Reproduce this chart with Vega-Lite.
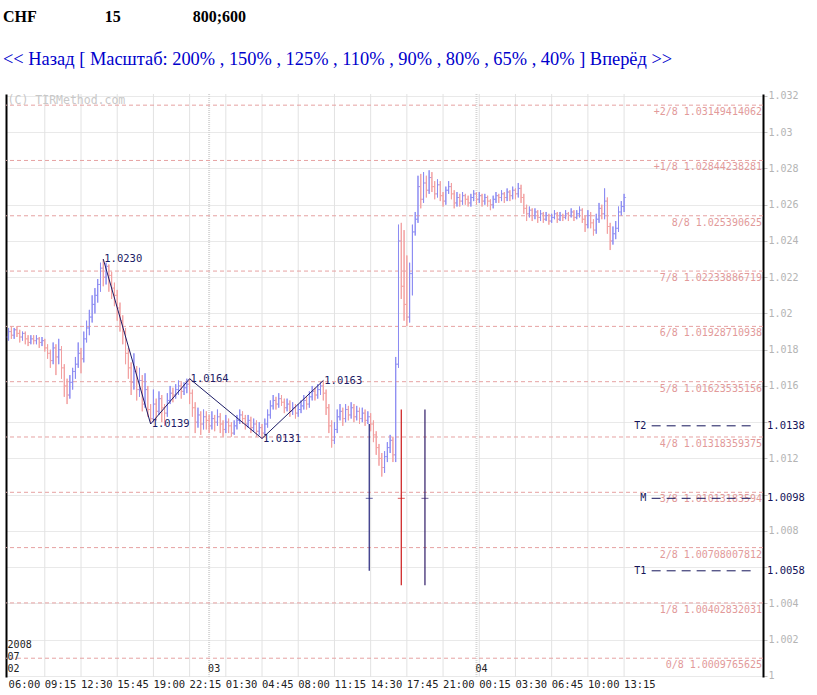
{
"$schema": "https://vega.github.io/schema/vega-lite/v6.json",
"width": 757,
"height": 583,
"padding": {"left": 3, "top": 8, "right": 5, "bottom": 2},
"config": {"view": {"stroke": null}},
"title": {
  "text": "\u00a0CHF\u00a0\u00a0\u00a0\u00a0\u00a0\u00a0\u00a0\u00a0\u00a0\u00a0\u00a0\u00a0\u00a0\u00a0\u00a0\u00a0\u00a015\u00a0\u00a0\u00a0\u00a0\u00a0\u00a0\u00a0\u00a0\u00a0\u00a0\u00a0\u00a0\u00a0\u00a0\u00a0\u00a0\u00a0\u00a0800;600",
  "subtitle": "<< Назад [ Масштаб: 200% , 150% , 125% , 110% , 90% , 80% , 65% , 40% ] Вперёд >>",
  "anchor": "start", "frame": "group", "dx": -3,
  "font": "Liberation Serif", "fontSize": 16, "fontWeight": "bold", "color": "#000000",
  "subtitleFont": "Liberation Serif", "subtitleFontSize": 18.4, "subtitleColor": "#0000cc",
  "subtitlePadding": 25, "offset": 23
},
"datasets": {
  "bars": [
{"i":0,"o":1.0187,"h":1.0192,"l":1.0185,"c":1.0190},{"i":1,"o":1.0190,"h":1.0193,"l":1.0186,"c":1.0188},{"i":2,"o":1.0188,"h":1.0192,"l":1.0186,"c":1.0191},{"i":3,"o":1.0191,"h":1.0193,"l":1.0187,"c":1.0189},{"i":4,"o":1.0189,"h":1.0191,"l":1.0184,"c":1.0187},
{"i":5,"o":1.0187,"h":1.0190,"l":1.0185,"c":1.0189},{"i":6,"o":1.0189,"h":1.0190,"l":1.0183,"c":1.0186},{"i":7,"o":1.0186,"h":1.0188,"l":1.0182,"c":1.0184},{"i":8,"o":1.0184,"h":1.0188,"l":1.0183,"c":1.0186},{"i":9,"o":1.0186,"h":1.0188,"l":1.0183,"c":1.0185},
{"i":10,"o":1.0185,"h":1.0188,"l":1.0183,"c":1.0186},{"i":11,"o":1.0186,"h":1.0187,"l":1.0181,"c":1.0184},{"i":12,"o":1.0184,"h":1.0187,"l":1.0182,"c":1.0185},{"i":13,"o":1.0185,"h":1.0186,"l":1.0179,"c":1.0181},{"i":14,"o":1.0181,"h":1.0183,"l":1.0175,"c":1.0178},
{"i":15,"o":1.0178,"h":1.0180,"l":1.0170,"c":1.0174},{"i":16,"o":1.0174,"h":1.0184,"l":1.0172,"c":1.0181},{"i":17,"o":1.0181,"h":1.0183,"l":1.0166,"c":1.0176},{"i":18,"o":1.0176,"h":1.0186,"l":1.0172,"c":1.0180},{"i":19,"o":1.0180,"h":1.0182,"l":1.0164,"c":1.0170},
{"i":20,"o":1.0170,"h":1.0172,"l":1.0154,"c":1.0160},{"i":21,"o":1.0160,"h":1.0164,"l":1.0150,"c":1.0155},{"i":22,"o":1.0155,"h":1.0166,"l":1.0153,"c":1.0162},{"i":23,"o":1.0162,"h":1.0170,"l":1.0158,"c":1.0168},{"i":24,"o":1.0168,"h":1.0176,"l":1.0164,"c":1.0172},
{"i":25,"o":1.0172,"h":1.0184,"l":1.0170,"c":1.0178},{"i":26,"o":1.0178,"h":1.0181,"l":1.0167,"c":1.0175},{"i":27,"o":1.0175,"h":1.0190,"l":1.0173,"c":1.0186},{"i":28,"o":1.0186,"h":1.0196,"l":1.0184,"c":1.0192},{"i":29,"o":1.0192,"h":1.0202,"l":1.0188,"c":1.0198},
{"i":30,"o":1.0198,"h":1.0210,"l":1.0195,"c":1.0205},{"i":31,"o":1.0205,"h":1.0214,"l":1.0200,"c":1.0210},{"i":32,"o":1.0210,"h":1.0219,"l":1.0206,"c":1.0216},{"i":33,"o":1.0216,"h":1.0228,"l":1.0212,"c":1.0225},{"i":34,"o":1.0225,"h":1.0230,"l":1.0215,"c":1.0220},
{"i":35,"o":1.0220,"h":1.0228,"l":1.0216,"c":1.0226},{"i":36,"o":1.0226,"h":1.0227,"l":1.0212,"c":1.0221},{"i":37,"o":1.0221,"h":1.0223,"l":1.0208,"c":1.0214},{"i":38,"o":1.0214,"h":1.0217,"l":1.0204,"c":1.0210},{"i":39,"o":1.0210,"h":1.0213,"l":1.0196,"c":1.0203},
{"i":40,"o":1.0203,"h":1.0206,"l":1.0190,"c":1.0196},{"i":41,"o":1.0196,"h":1.0199,"l":1.0183,"c":1.0190},{"i":42,"o":1.0190,"h":1.0192,"l":1.0172,"c":1.0178},{"i":43,"o":1.0178,"h":1.0181,"l":1.0164,"c":1.0170},{"i":44,"o":1.0170,"h":1.0173,"l":1.0155,"c":1.0162},
{"i":45,"o":1.0162,"h":1.0178,"l":1.0158,"c":1.0168},{"i":46,"o":1.0168,"h":1.0171,"l":1.0152,"c":1.0158},{"i":47,"o":1.0158,"h":1.0170,"l":1.0154,"c":1.0163},{"i":48,"o":1.0163,"h":1.0166,"l":1.0146,"c":1.0150},{"i":49,"o":1.0150,"h":1.0167,"l":1.0148,"c":1.0158},
{"i":50,"o":1.0158,"h":1.0160,"l":1.0143,"c":1.0147},{"i":51,"o":1.0147,"h":1.0150,"l":1.0139,"c":1.0142},{"i":52,"o":1.0142,"h":1.0158,"l":1.0140,"c":1.0150},{"i":53,"o":1.0150,"h":1.0153,"l":1.0141,"c":1.0146},{"i":54,"o":1.0146,"h":1.0157,"l":1.0144,"c":1.0153},
{"i":55,"o":1.0153,"h":1.0155,"l":1.0140,"c":1.0148},{"i":56,"o":1.0148,"h":1.0150,"l":1.0138,"c":1.0145},{"i":57,"o":1.0145,"h":1.0156,"l":1.0143,"c":1.0152},{"i":58,"o":1.0152,"h":1.0160,"l":1.0150,"c":1.0156},{"i":59,"o":1.0156,"h":1.0159,"l":1.0151,"c":1.0155},
{"i":60,"o":1.0155,"h":1.0161,"l":1.0153,"c":1.0158},{"i":61,"o":1.0158,"h":1.0163,"l":1.0155,"c":1.0160},{"i":62,"o":1.0160,"h":1.0162,"l":1.0153,"c":1.0157},{"i":63,"o":1.0157,"h":1.0162,"l":1.0155,"c":1.0159},{"i":64,"o":1.0159,"h":1.0164,"l":1.0156,"c":1.0161},
{"i":65,"o":1.0161,"h":1.0164,"l":1.0150,"c":1.0156},{"i":66,"o":1.0156,"h":1.0158,"l":1.0143,"c":1.0148},{"i":67,"o":1.0148,"h":1.0151,"l":1.0134,"c":1.0140},{"i":68,"o":1.0140,"h":1.0148,"l":1.0137,"c":1.0144},{"i":69,"o":1.0144,"h":1.0146,"l":1.0133,"c":1.0139},
{"i":70,"o":1.0139,"h":1.0147,"l":1.0136,"c":1.0143},{"i":71,"o":1.0143,"h":1.0146,"l":1.0136,"c":1.0141},{"i":72,"o":1.0141,"h":1.0144,"l":1.0134,"c":1.0138},{"i":73,"o":1.0138,"h":1.0146,"l":1.0136,"c":1.0142},{"i":74,"o":1.0142,"h":1.0144,"l":1.0135,"c":1.0140},
{"i":75,"o":1.0140,"h":1.0147,"l":1.0138,"c":1.0143},{"i":76,"o":1.0143,"h":1.0145,"l":1.0134,"c":1.0139},{"i":77,"o":1.0139,"h":1.0141,"l":1.0132,"c":1.0136},{"i":78,"o":1.0136,"h":1.0144,"l":1.0134,"c":1.0140},{"i":79,"o":1.0140,"h":1.0142,"l":1.0134,"c":1.0138},
{"i":80,"o":1.0138,"h":1.0140,"l":1.0132,"c":1.0134},{"i":81,"o":1.0134,"h":1.0141,"l":1.0133,"c":1.0138},{"i":82,"o":1.0138,"h":1.0144,"l":1.0136,"c":1.0141},{"i":83,"o":1.0141,"h":1.0147,"l":1.0139,"c":1.0144},{"i":84,"o":1.0144,"h":1.0146,"l":1.0139,"c":1.0142},
{"i":85,"o":1.0142,"h":1.0144,"l":1.0136,"c":1.0139},{"i":86,"o":1.0139,"h":1.0144,"l":1.0137,"c":1.0141},{"i":87,"o":1.0141,"h":1.0143,"l":1.0134,"c":1.0137},{"i":88,"o":1.0137,"h":1.0142,"l":1.0135,"c":1.0139},{"i":89,"o":1.0139,"h":1.0141,"l":1.0132,"c":1.0135},
{"i":90,"o":1.0135,"h":1.0140,"l":1.0133,"c":1.0137},{"i":91,"o":1.0137,"h":1.0139,"l":1.0131,"c":1.0134},{"i":92,"o":1.0134,"h":1.0142,"l":1.0133,"c":1.0139},{"i":93,"o":1.0139,"h":1.0147,"l":1.0137,"c":1.0144},{"i":94,"o":1.0144,"h":1.0152,"l":1.0142,"c":1.0149},
{"i":95,"o":1.0149,"h":1.0155,"l":1.0147,"c":1.0152},{"i":96,"o":1.0152,"h":1.0154,"l":1.0147,"c":1.0150},{"i":97,"o":1.0150,"h":1.0156,"l":1.0148,"c":1.0153},{"i":98,"o":1.0153,"h":1.0155,"l":1.0149,"c":1.0151},{"i":99,"o":1.0151,"h":1.0153,"l":1.0145,"c":1.0148},
{"i":100,"o":1.0148,"h":1.0153,"l":1.0146,"c":1.0150},{"i":101,"o":1.0150,"h":1.0152,"l":1.0143,"c":1.0146},{"i":102,"o":1.0146,"h":1.0151,"l":1.0144,"c":1.0148},{"i":103,"o":1.0148,"h":1.0150,"l":1.0142,"c":1.0145},{"i":104,"o":1.0145,"h":1.0150,"l":1.0143,"c":1.0147},
{"i":105,"o":1.0147,"h":1.0152,"l":1.0145,"c":1.0149},{"i":106,"o":1.0149,"h":1.0155,"l":1.0147,"c":1.0152},{"i":107,"o":1.0152,"h":1.0154,"l":1.0147,"c":1.0150},{"i":108,"o":1.0150,"h":1.0157,"l":1.0148,"c":1.0154},{"i":109,"o":1.0154,"h":1.0160,"l":1.0152,"c":1.0157},
{"i":110,"o":1.0157,"h":1.0159,"l":1.0152,"c":1.0155},{"i":111,"o":1.0155,"h":1.0161,"l":1.0153,"c":1.0158},{"i":112,"o":1.0158,"h":1.0162,"l":1.0155,"c":1.0160},{"i":113,"o":1.0160,"h":1.0163,"l":1.0152,"c":1.0156},{"i":114,"o":1.0156,"h":1.0158,"l":1.0144,"c":1.0148},
{"i":115,"o":1.0148,"h":1.0150,"l":1.0134,"c":1.0138},{"i":116,"o":1.0138,"h":1.0141,"l":1.0126,"c":1.0130},{"i":117,"o":1.0130,"h":1.0140,"l":1.0128,"c":1.0136},{"i":118,"o":1.0136,"h":1.0147,"l":1.0134,"c":1.0143},{"i":119,"o":1.0143,"h":1.0150,"l":1.0141,"c":1.0146},
{"i":120,"o":1.0146,"h":1.0148,"l":1.0138,"c":1.0142},{"i":121,"o":1.0142,"h":1.0150,"l":1.0140,"c":1.0147},{"i":122,"o":1.0147,"h":1.0149,"l":1.0141,"c":1.0144},{"i":123,"o":1.0144,"h":1.0151,"l":1.0142,"c":1.0148},{"i":124,"o":1.0148,"h":1.0150,"l":1.0140,"c":1.0143},
{"i":125,"o":1.0143,"h":1.0149,"l":1.0141,"c":1.0146},{"i":126,"o":1.0146,"h":1.0148,"l":1.0139,"c":1.0142},{"i":127,"o":1.0142,"h":1.0148,"l":1.0140,"c":1.0145},{"i":128,"o":1.0145,"h":1.0147,"l":1.0138,"c":1.0141},{"i":129,"o":1.0141,"h":1.0146,"l":1.0139,"c":1.0143},
{"i":130,"o":1.0143,"h":1.0145,"l":1.0135,"c":1.0139},{"i":131,"o":1.0139,"h":1.0141,"l":1.0129,"c":1.0133},{"i":132,"o":1.0133,"h":1.0135,"l":1.0122,"c":1.0126},{"i":133,"o":1.0126,"h":1.0128,"l":1.0116,"c":1.0120},{"i":134,"o":1.0120,"h":1.0123,"l":1.0110,"c":1.0115},
{"i":135,"o":1.0115,"h":1.0124,"l":1.0112,"c":1.0121},{"i":136,"o":1.0121,"h":1.0129,"l":1.0118,"c":1.0126},{"i":137,"o":1.0126,"h":1.0133,"l":1.0123,"c":1.0130},{"i":138,"o":1.0130,"h":1.0132,"l":1.0118,"c":1.0122},{"i":139,"o":1.0122,"h":1.0176,"l":1.0118,"c":1.0172},
{"i":140,"o":1.0172,"h":1.0249,"l":1.0170,"c":1.0240},{"i":141,"o":1.0240,"h":1.0250,"l":1.0208,"c":1.0215},{"i":142,"o":1.0215,"h":1.0246,"l":1.0196,"c":1.0205},{"i":143,"o":1.0205,"h":1.0232,"l":1.0193,"c":1.0198},{"i":144,"o":1.0198,"h":1.0228,"l":1.0195,"c":1.0222},
{"i":145,"o":1.0222,"h":1.0249,"l":1.0210,"c":1.0245},{"i":146,"o":1.0245,"h":1.0256,"l":1.0243,"c":1.0252},{"i":147,"o":1.0252,"h":1.0276,"l":1.0250,"c":1.0270},{"i":148,"o":1.0270,"h":1.0277,"l":1.0258,"c":1.0263},{"i":149,"o":1.0263,"h":1.0278,"l":1.0261,"c":1.0272},
{"i":150,"o":1.0272,"h":1.0276,"l":1.0264,"c":1.0268},{"i":151,"o":1.0268,"h":1.0279,"l":1.0266,"c":1.0275},{"i":152,"o":1.0275,"h":1.0278,"l":1.0267,"c":1.0270},{"i":153,"o":1.0270,"h":1.0273,"l":1.0263,"c":1.0266},{"i":154,"o":1.0266,"h":1.0274,"l":1.0264,"c":1.0271},
{"i":155,"o":1.0271,"h":1.0273,"l":1.0262,"c":1.0265},{"i":156,"o":1.0265,"h":1.0267,"l":1.0259,"c":1.0262},{"i":157,"o":1.0262,"h":1.0270,"l":1.0260,"c":1.0268},{"i":158,"o":1.0268,"h":1.0273,"l":1.0266,"c":1.0270},{"i":159,"o":1.0270,"h":1.0272,"l":1.0263,"c":1.0266},
{"i":160,"o":1.0266,"h":1.0268,"l":1.0258,"c":1.0261},{"i":161,"o":1.0261,"h":1.0267,"l":1.0259,"c":1.0264},{"i":162,"o":1.0264,"h":1.0266,"l":1.0259,"c":1.0262},{"i":163,"o":1.0262,"h":1.0267,"l":1.0260,"c":1.0265},{"i":164,"o":1.0265,"h":1.0266,"l":1.0260,"c":1.0263},
{"i":165,"o":1.0263,"h":1.0265,"l":1.0259,"c":1.0261},{"i":166,"o":1.0261,"h":1.0266,"l":1.0259,"c":1.0264},{"i":167,"o":1.0264,"h":1.0268,"l":1.0262,"c":1.0266},{"i":168,"o":1.0266,"h":1.0267,"l":1.0260,"c":1.0263},{"i":169,"o":1.0263,"h":1.0267,"l":1.0261,"c":1.0265},
{"i":170,"o":1.0265,"h":1.0266,"l":1.0259,"c":1.0262},{"i":171,"o":1.0262,"h":1.0266,"l":1.0260,"c":1.0264},{"i":172,"o":1.0264,"h":1.0265,"l":1.0259,"c":1.0262},{"i":173,"o":1.0262,"h":1.0263,"l":1.0257,"c":1.0260},{"i":174,"o":1.0260,"h":1.0265,"l":1.0258,"c":1.0263},
{"i":175,"o":1.0263,"h":1.0267,"l":1.0261,"c":1.0265},{"i":176,"o":1.0265,"h":1.0266,"l":1.0261,"c":1.0264},{"i":177,"o":1.0264,"h":1.0268,"l":1.0262,"c":1.0266},{"i":178,"o":1.0266,"h":1.0267,"l":1.0261,"c":1.0264},{"i":179,"o":1.0264,"h":1.0269,"l":1.0262,"c":1.0267},
{"i":180,"o":1.0267,"h":1.0268,"l":1.0262,"c":1.0265},{"i":181,"o":1.0265,"h":1.0270,"l":1.0263,"c":1.0268},{"i":182,"o":1.0268,"h":1.0269,"l":1.0263,"c":1.0266},{"i":183,"o":1.0266,"h":1.0272,"l":1.0264,"c":1.0269},{"i":184,"o":1.0269,"h":1.0271,"l":1.0261,"c":1.0264},
{"i":185,"o":1.0264,"h":1.0266,"l":1.0255,"c":1.0258},{"i":186,"o":1.0258,"h":1.0260,"l":1.0251,"c":1.0255},{"i":187,"o":1.0255,"h":1.0259,"l":1.0253,"c":1.0257},{"i":188,"o":1.0257,"h":1.0258,"l":1.0251,"c":1.0254},{"i":189,"o":1.0254,"h":1.0258,"l":1.0252,"c":1.0256},
{"i":190,"o":1.0256,"h":1.0257,"l":1.0250,"c":1.0253},{"i":191,"o":1.0253,"h":1.0257,"l":1.0251,"c":1.0255},{"i":192,"o":1.0255,"h":1.0256,"l":1.0250,"c":1.0252},{"i":193,"o":1.0252,"h":1.0256,"l":1.0251,"c":1.0254},{"i":194,"o":1.0254,"h":1.0255,"l":1.0249,"c":1.0251},
{"i":195,"o":1.0251,"h":1.0255,"l":1.0250,"c":1.0253},{"i":196,"o":1.0253,"h":1.0257,"l":1.0252,"c":1.0255},{"i":197,"o":1.0255,"h":1.0256,"l":1.0250,"c":1.0252},{"i":198,"o":1.0252,"h":1.0256,"l":1.0251,"c":1.0254},{"i":199,"o":1.0254,"h":1.0255,"l":1.0251,"c":1.0253},
{"i":200,"o":1.0253,"h":1.0257,"l":1.0252,"c":1.0255},{"i":201,"o":1.0255,"h":1.0256,"l":1.0251,"c":1.0254},{"i":202,"o":1.0254,"h":1.0258,"l":1.0253,"c":1.0256},{"i":203,"o":1.0256,"h":1.0257,"l":1.0251,"c":1.0253},{"i":204,"o":1.0253,"h":1.0257,"l":1.0252,"c":1.0255},
{"i":205,"o":1.0255,"h":1.0259,"l":1.0253,"c":1.0257},{"i":206,"o":1.0257,"h":1.0258,"l":1.0250,"c":1.0252},{"i":207,"o":1.0252,"h":1.0254,"l":1.0245,"c":1.0249},{"i":208,"o":1.0249,"h":1.0257,"l":1.0247,"c":1.0254},{"i":209,"o":1.0254,"h":1.0256,"l":1.0247,"c":1.0250},
{"i":210,"o":1.0250,"h":1.0252,"l":1.0243,"c":1.0246},{"i":211,"o":1.0246,"h":1.0255,"l":1.0244,"c":1.0252},{"i":212,"o":1.0252,"h":1.0261,"l":1.0250,"c":1.0258},{"i":213,"o":1.0258,"h":1.0260,"l":1.0252,"c":1.0255},{"i":214,"o":1.0255,"h":1.0269,"l":1.0252,"c":1.0262},
{"i":215,"o":1.0262,"h":1.0264,"l":1.0244,"c":1.0248},{"i":216,"o":1.0248,"h":1.0250,"l":1.0235,"c":1.0240},{"i":217,"o":1.0240,"h":1.0248,"l":1.0238,"c":1.0244},{"i":218,"o":1.0244,"h":1.0251,"l":1.0241,"c":1.0247},{"i":219,"o":1.0247,"h":1.0259,"l":1.0245,"c":1.0256},
{"i":220,"o":1.0256,"h":1.0262,"l":1.0254,"c":1.0259},{"i":221,"o":1.0259,"h":1.0266,"l":1.0256,"c":1.0264}
  ],
  "hours": [
    {"i":0,"t":"06:00"},{"i":13,"t":"09:15"},{"i":26,"t":"12:30"},{"i":39,"t":"15:45"},{"i":52,"t":"19:00"},{"i":65,"t":"22:15"},
    {"i":78,"t":"01:30"},{"i":91,"t":"04:45"},{"i":104,"t":"08:00"},{"i":117,"t":"11:15"},{"i":130,"t":"14:30"},{"i":143,"t":"17:45"},
    {"i":156,"t":"21:00"},{"i":169,"t":"00:15"},{"i":182,"t":"03:30"},{"i":195,"t":"06:45"},{"i":208,"t":"10:00"},{"i":221,"t":"13:15"}
  ],
  "murrey": [
    {"v":1.03149414062,"t":"+2/8 1.03149414062"},
    {"v":1.02844238281,"t":"+1/8 1.02844238281"},
    {"v":1.025390625,"t":"8/8 1.025390625"},
    {"v":1.02233886719,"t":"7/8 1.02233886719"},
    {"v":1.01928710938,"t":"6/8 1.01928710938"},
    {"v":1.01623535156,"t":"5/8 1.01623535156"},
    {"v":1.01318359375,"t":"4/8 1.01318359375"},
    {"v":1.01013183594,"t":"3/8 1.01013183594"},
    {"v":1.00708007812,"t":"2/8 1.00708007812"},
    {"v":1.00402832031,"t":"1/8 1.00402832031"},
    {"v":1.0009765625,"t":"0/8 1.0009765625"}
  ],
  "zig": [
    {"i":34,"v":1.0230},{"i":51,"v":1.0139},{"i":65,"v":1.0164},{"i":91,"v":1.0131},{"i":113,"v":1.0163}
  ],
  "targets": [
    {"n":"T2","v":1.0138},{"n":"M","v":1.0098},{"n":"T1","v":1.0058}
  ],
  "verticals": [
    {"i":129.5,"lo":1.0058,"hi":1.0139,"mid":1.0098,"k":"a"},
    {"i":141,"lo":1.0050,"hi":1.0147,"mid":1.0098,"k":"b"},
    {"i":149.5,"lo":1.0050,"hi":1.0147,"mid":1.0098,"k":"c"}
  ],
  "days": [
    {"i":0,"t":"02"},{"i":72,"t":"03"},{"i":168,"t":"04"}
  ],
  "stamp": [
    {"t":"2008","v":1.0017},{"t":"07","v":1.00103}
  ]
},
"layer": [
  {
    "data": {"name": "hours"},
    "transform": [{"filter": "datum.i > 0"}],
    "mark": {"type": "rule", "color": "#e2e2e2", "strokeWidth": 1},
    "encoding": {
      "x": {"field": "i", "type": "quantitative", "scale": {"domain": [-0.93, 270.88], "nice": false, "zero": false}, "axis": null}
    }
  },
  {
    "data": {"name": "days"},
    "transform": [{"filter": "datum.i > 0"}],
    "mark": {"type": "rule", "color": "#d6d6d6", "strokeDash": [1, 1], "strokeWidth": 2},
    "encoding": {
      "x": {"field": "i", "type": "quantitative", "scale": {"domain": [-0.93, 270.88], "nice": false, "zero": false}, "axis": null}
    }
  },
  {
    "data": {"name": "bars"},
    "mark": {"type": "rule", "strokeWidth": 1},
    "encoding": {
      "x": {"field": "i", "type": "quantitative", "scale": {"domain": [-0.93, 270.88], "nice": false, "zero": false}, "axis": null},
      "y": {"field": "l", "type": "quantitative",
        "scale": {"domain": [0.99994, 1.03211], "nice": false, "zero": false},
        "axis": {"orient": "right", "values": [1,1.002,1.004,1.006,1.008,1.01,1.012,1.014,1.016,1.018,1.02,1.022,1.024,1.026,1.028,1.03,1.032],
          "labelExpr": "(abs(datum.value-1.014)<0.0001 || abs(datum.value-1.01)<0.0001 || abs(datum.value-1.006)<0.0001) ? '' : format(datum.value, '~g')",
          "grid": true, "gridColor": "#d2d2d2", "gridDash": [1, 1], "domainColor": "#000000", "domainWidth": 2,
          "tickColor": "#c4c4c4", "tickSize": 4, "labelColor": "#b4b4b4", "labelFont": "DejaVu Sans Mono", "labelFontSize": 10,
          "labelPadding": 1, "title": null, "labelOverlap": false, "labelFlush": false}},
      "y2": {"field": "h"},
      "color": {"condition": {"test": "datum.c >= datum.o", "value": "#8c8cf2"}, "value": "#f2a0a0"}
    }
  },
  {
    "data": {"name": "murrey"},
    "mark": {"type": "rule", "color": "#e6a2a2", "strokeDash": [4, 3], "strokeWidth": 1},
    "encoding": {
      "y": {"field": "v", "type": "quantitative",
        "scale": {"domain": [0.99994, 1.03211], "nice": false, "zero": false},
        "axis": {"orient": "left", "labels": false, "ticks": false, "grid": false, "title": null, "domainColor": "#000000", "domainWidth": 2}}
    }
  },
  {
    "data": {"name": "murrey"},
    "mark": {"type": "text", "align": "right", "baseline": "middle", "dx": -1, "dy": 7, "font": "DejaVu Sans Mono", "fontSize": 10, "color": "#e29a9a"},
    "encoding": {
      "x": {"value": "width"},
      "y": {"field": "v", "type": "quantitative", "scale": {"domain": [0.99994, 1.03211], "nice": false, "zero": false}, "axis": null},
      "text": {"field": "t"}
    }
  },
  {
    "data": {"name": "bars"},
    "mark": {"type": "rule", "strokeWidth": 1},
    "encoding": {
      "x": {"field": "i", "type": "quantitative", "scale": {"domain": [-0.93, 270.88], "nice": false, "zero": false}, "axis": null},
      "y": {"field": "l", "type": "quantitative", "scale": {"domain": [0.99994, 1.03211], "nice": false, "zero": false}, "axis": null},
      "y2": {"field": "h"},
      "color": {"condition": {"test": "datum.c >= datum.o", "value": "#8c8cf2"}, "value": "#f2a0a0"}
    }
  },
  {
    "data": {"name": "bars"},
    "mark": {"type": "tick", "orient": "horizontal", "size": 2, "thickness": 1, "xOffset": -1},
    "encoding": {
      "x": {"field": "i", "type": "quantitative", "scale": {"domain": [-0.93, 270.88], "nice": false, "zero": false}, "axis": null},
      "y": {"field": "o", "type": "quantitative", "scale": {"domain": [0.99994, 1.03211], "nice": false, "zero": false}, "axis": null},
      "color": {"condition": {"test": "datum.c >= datum.o", "value": "#8c8cf2"}, "value": "#f2a0a0"}
    }
  },
  {
    "data": {"name": "bars"},
    "mark": {"type": "tick", "orient": "horizontal", "size": 2, "thickness": 1, "xOffset": 1},
    "encoding": {
      "x": {"field": "i", "type": "quantitative", "scale": {"domain": [-0.93, 270.88], "nice": false, "zero": false}, "axis": null},
      "y": {"field": "c", "type": "quantitative", "scale": {"domain": [0.99994, 1.03211], "nice": false, "zero": false}, "axis": null},
      "color": {"condition": {"test": "datum.c >= datum.o", "value": "#8c8cf2"}, "value": "#f2a0a0"}
    }
  },
  {
    "data": {"name": "zig"},
    "mark": {"type": "line", "color": "#1c1c66", "strokeWidth": 1},
    "encoding": {
      "x": {"field": "i", "type": "quantitative", "scale": {"domain": [-0.93, 270.88], "nice": false, "zero": false}, "axis": null},
      "y": {"field": "v", "type": "quantitative", "scale": {"domain": [0.99994, 1.03211], "nice": false, "zero": false}, "axis": null}
    }
  },
  {
    "data": {"name": "zig"},
    "mark": {"type": "text", "align": "left", "baseline": "middle", "dx": 1, "font": "DejaVu Sans Mono", "fontSize": 10.5, "color": "#1c1c66"},
    "encoding": {
      "x": {"field": "i", "type": "quantitative", "scale": {"domain": [-0.93, 270.88], "nice": false, "zero": false}, "axis": null},
      "y": {"field": "v", "type": "quantitative", "scale": {"domain": [0.99994, 1.03211], "nice": false, "zero": false}, "axis": null},
      "text": {"field": "v", "type": "quantitative", "format": ".4f"}
    }
  },
  {
    "data": {"name": "verticals"},
    "mark": {"type": "rule", "strokeWidth": 1.2},
    "encoding": {
      "x": {"field": "i", "type": "quantitative", "scale": {"domain": [-0.93, 270.88], "nice": false, "zero": false}, "axis": null},
      "y": {"field": "lo", "type": "quantitative", "scale": {"domain": [0.99994, 1.03211], "nice": false, "zero": false}, "axis": null},
      "y2": {"field": "hi"},
      "color": {"field": "k", "type": "nominal", "scale": {"domain": ["a","b","c"], "range": ["#26267e","#cc1818","#2e1a66"]}, "legend": null}
    }
  },
  {
    "data": {"name": "verticals"},
    "mark": {"type": "tick", "orient": "horizontal", "size": 7, "thickness": 1},
    "encoding": {
      "x": {"field": "i", "type": "quantitative", "scale": {"domain": [-0.93, 270.88], "nice": false, "zero": false}, "axis": null},
      "y": {"field": "mid", "type": "quantitative", "scale": {"domain": [0.99994, 1.03211], "nice": false, "zero": false}, "axis": null},
      "color": {"field": "k", "type": "nominal", "scale": {"domain": ["a","b","c"], "range": ["#26267e","#cc1818","#2e1a66"]}, "legend": null}
    }
  },
  {
    "data": {"name": "targets"},
    "mark": {"type": "rule", "color": "#14145a", "strokeDash": [9, 6], "strokeWidth": 1},
    "encoding": {
      "x": {"datum": 230.9, "type": "quantitative", "scale": {"domain": [-0.93, 270.88], "nice": false, "zero": false}, "axis": null},
      "x2": {"datum": 268},
      "y": {"field": "v", "type": "quantitative", "scale": {"domain": [0.99994, 1.03211], "nice": false, "zero": false}, "axis": null}
    }
  },
  {
    "data": {"name": "targets"},
    "mark": {"type": "text", "align": "right", "baseline": "middle", "font": "DejaVu Sans Mono", "fontSize": 10, "color": "#14145a"},
    "encoding": {
      "x": {"datum": 229, "type": "quantitative", "scale": {"domain": [-0.93, 270.88], "nice": false, "zero": false}, "axis": null},
      "y": {"field": "v", "type": "quantitative", "scale": {"domain": [0.99994, 1.03211], "nice": false, "zero": false}, "axis": null},
      "text": {"field": "n"}
    }
  },
  {
    "data": {"name": "targets"},
    "mark": {"type": "text", "align": "left", "baseline": "middle", "dx": 4, "font": "DejaVu Sans Mono", "fontSize": 10.5, "color": "#14145a"},
    "encoding": {
      "x": {"value": "width"},
      "y": {"field": "v", "type": "quantitative", "scale": {"domain": [0.99994, 1.03211], "nice": false, "zero": false}, "axis": null},
      "text": {"field": "v", "type": "quantitative", "format": ".4f"}
    }
  },
  {
    "data": {"values": [{"t": "(C) TIRMethod.com"}]},
    "mark": {"type": "text", "align": "left", "baseline": "middle", "dx": -1, "font": "DejaVu Sans Mono", "fontSize": 11.5, "color": "#c8c8c8"},
    "encoding": {
      "x": {"datum": 0, "type": "quantitative", "scale": {"domain": [-0.93, 270.88], "nice": false, "zero": false}, "axis": null},
      "y": {"datum": 1.0317, "type": "quantitative", "scale": {"domain": [0.99994, 1.03211], "nice": false, "zero": false}, "axis": null},
      "text": {"field": "t"}
    }
  },
  {
    "data": {"name": "days"},
    "mark": {"type": "text", "align": "left", "baseline": "middle", "dx": -1, "font": "DejaVu Sans Mono", "fontSize": 10, "color": "#222222"},
    "encoding": {
      "x": {"field": "i", "type": "quantitative", "scale": {"domain": [-0.93, 270.88], "nice": false, "zero": false}, "axis": null},
      "y": {"datum": 1.00036, "type": "quantitative", "scale": {"domain": [0.99994, 1.03211], "nice": false, "zero": false}, "axis": null},
      "text": {"field": "t"}
    }
  },
  {
    "data": {"name": "stamp"},
    "mark": {"type": "text", "align": "left", "baseline": "middle", "dx": -1, "font": "DejaVu Sans Mono", "fontSize": 10, "color": "#222222"},
    "encoding": {
      "x": {"datum": 0, "type": "quantitative", "scale": {"domain": [-0.93, 270.88], "nice": false, "zero": false}, "axis": null},
      "y": {"field": "v", "type": "quantitative", "scale": {"domain": [0.99994, 1.03211], "nice": false, "zero": false}, "axis": null},
      "text": {"field": "t"}
    }
  },
  {
    "data": {"name": "hours"},
    "mark": {"type": "text", "align": "left", "baseline": "top", "dy": 3, "font": "DejaVu Sans Mono", "fontSize": 10.5, "color": "#222222"},
    "encoding": {
      "x": {"field": "i", "type": "quantitative", "scale": {"domain": [-0.93, 270.88], "nice": false, "zero": false}, "axis": null},
      "y": {"datum": 0.99994, "type": "quantitative", "scale": {"domain": [0.99994, 1.03211], "nice": false, "zero": false}, "axis": null},
      "text": {"field": "t"}
    }
  }
]
}
